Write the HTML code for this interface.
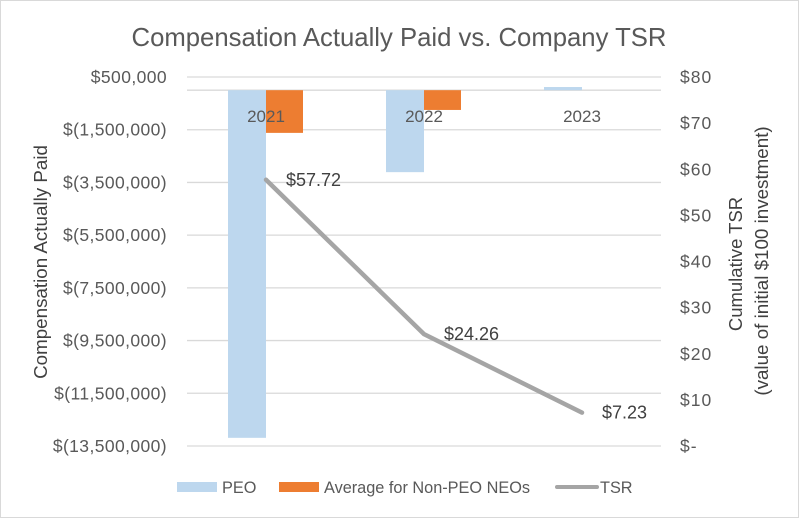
<!DOCTYPE html>
<html><head><meta charset="utf-8"><style>
body{margin:0;background:#fff;}
svg{display:block;font-family:"Liberation Sans",Calibri,sans-serif;}
</style></head><body>
<svg id="chart" width="799" height="518" viewBox="0 0 799 518">
<rect x="0.5" y="0.5" width="798" height="517" fill="#fff" stroke="#d9d9d9"/>
<text x="399" y="46" text-anchor="middle" font-size="25.7" fill="#595959">Compensation Actually Paid vs. Company TSR</text>
<g id="grid"></g><g id="bars"></g><g id="line"></g><g id="axes"></g>
<text transform="translate(47,262) rotate(-90)" text-anchor="middle" font-size="18.8" fill="#404040">Compensation Actually Paid</text>
<text transform="translate(742,264) rotate(-90)" text-anchor="middle" font-size="18.5" fill="#404040">Cumulative TSR</text>
<text transform="translate(768,261) rotate(-90)" text-anchor="middle" font-size="18.8" fill="#404040">(value of initial $100 investment)</text>
<g>
<rect x="177" y="482" width="40" height="10" fill="#bdd7ee"/>
<text x="222" y="493" font-size="16.3" fill="#595959">PEO</text>
<rect x="279" y="482" width="40" height="10" fill="#ed7d31"/>
<text x="324" y="493" font-size="16.3" fill="#595959">Average for Non-PEO NEOs</text>
<line x1="557" y1="487" x2="597" y2="487" stroke="#a5a5a5" stroke-width="4" stroke-linecap="round"/>
<text x="600" y="493" font-size="16.3" fill="#595959">TSR</text>
</g>
</svg>
<script>
const categories=["2021","2022","2023"];
const peoValues=[-13190000,-3110000,120000];
const nonPeoValues=[-1620000,-750000,0];
const tsrValues=[57.72,24.26,7.23];
const tsrLabels=["$57.72","$24.26","$7.23"];
const leftTicks=[500000,-1500000,-3500000,-5500000,-7500000,-9500000,-11500000,-13500000];
const leftTickLabels=["$500,000","$(1,500,000)","$(3,500,000)","$(5,500,000)","$(7,500,000)","$(9,500,000)","$(11,500,000)","$(13,500,000)"];
const rightTicks=[80,70,60,50,40,30,20,10,0];
const rightTickLabels=["$80","$70","$60","$50","$40","$30","$20","$10","$-"];

const NS="http://www.w3.org/2000/svg";
const X0=187,X1=661,YT=77,YB=446;
const yL=v=>YT+(500000-v)/14000000*(YB-YT);
const yR=v=>YB-v/80*(YB-YT);
const bandW=(X1-X0)/categories.length;
const cx=i=>X0+bandW*(i+0.5);
function mk(tag,attrs,parent){const e=document.createElementNS(NS,tag);for(const k in attrs)e.setAttribute(k,attrs[k]);document.getElementById(parent).appendChild(e);return e;}

leftTicks.forEach((t,i)=>{
  const g=mk("line",{x1:X0,x2:X1,y1:yL(t),y2:yL(t),stroke:"#d9d9d9","stroke-width":1.3},"grid");
  
  
  const l=mk("text",{x:167,y:yL(t)+6,"text-anchor":"end","font-size":17.5,"letter-spacing":0.4,fill:"#595959"},"axes");
  l.textContent=leftTickLabels[i];
  
  
});
const z=mk("line",{x1:X0,x2:X1,y1:yL(0),y2:yL(0),stroke:"#d9d9d9","stroke-width":1.3},"grid");


rightTicks.forEach((t,i)=>{
  const l=mk("text",{x:680,y:yR(t)+6,"font-size":17.5,"letter-spacing":1,fill:"#595959"},"axes");
  l.textContent=rightTickLabels[i];
  
  
});
const bw=38;
categories.forEach((c,i)=>{
  const p=peoValues[i],n=nonPeoValues[i];
  const b1=mk("rect",{x:cx(i)-bw,width:bw,y:Math.min(yL(0),yL(p)),height:Math.abs(yL(p)-yL(0)),fill:"#bdd7ee"},"bars");
  
  
  const b2=mk("rect",{x:cx(i),width:bw-1,y:Math.min(yL(0),yL(n)),height:Math.abs(yL(n)-yL(0)),fill:"#ed7d31"},"bars");
  
  
  const l=mk("text",{x:cx(i),y:122,"text-anchor":"middle","font-size":17,fill:"#595959"},"axes");
  l.textContent=c;
  
  
});
const pts=tsrValues.map((v,i)=>cx(i)+","+yR(v)).join(" ");
const pl=mk("polyline",{points:pts,fill:"none",stroke:"#a5a5a5","stroke-width":4.5,"stroke-linecap":"round","stroke-linejoin":"round"},"line");


tsrValues.forEach((v,i)=>{
  const l=mk("text",{x:cx(i)+20,y:yR(v)+6,"font-size":18,fill:"#404040"},"line");
  l.textContent=tsrLabels[i];
  
  
});
</script>
</body></html>
